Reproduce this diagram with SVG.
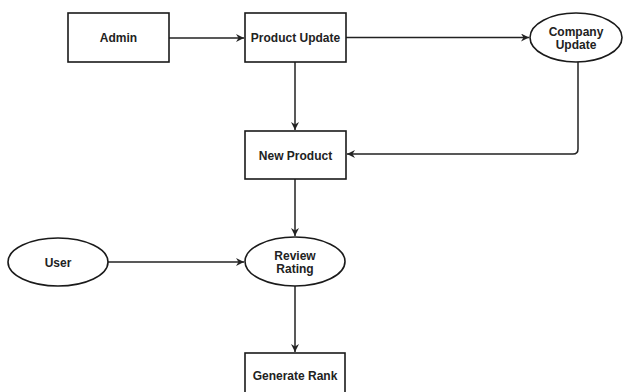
<svg xmlns="http://www.w3.org/2000/svg" width="624" height="392" viewBox="0 0 624 392">
<defs>
<style>
.n{fill:#fff;stroke:#1a1a1a;stroke-width:1.6}
.t{font-family:"Liberation Sans",Arial,sans-serif;font-size:12px;font-weight:bold;fill:#222;text-anchor:middle}
.c{fill:none;stroke:#222;stroke-width:1.5}
</style>
<marker id="ah" markerWidth="10" markerHeight="10" refX="8" refY="4" orient="auto" markerUnits="userSpaceOnUse">
<path d="M0,0 L8,4 L0,8 L2.5,4 z" fill="#222"/>
</marker>
</defs>
<rect width="624" height="392" fill="#fff"/>
<g id="connectors">
<path class="c" d="M169,38 H244" marker-end="url(#ah)"/>
<path class="c" d="M346,37.5 H529" marker-end="url(#ah)"/>
<path class="c" d="M578,62 V149 Q578,154 573,154 H347" marker-end="url(#ah)"/>
<path class="c" d="M295,62 V130" marker-end="url(#ah)"/>
<path class="c" d="M295,179 V236" marker-end="url(#ah)"/>
<path class="c" d="M107,262 H244" marker-end="url(#ah)"/>
<path class="c" d="M295,286 V352" marker-end="url(#ah)"/>
</g>
<g id="admin">
<rect class="n" x="68" y="13" width="101" height="49"/>
<text class="t" x="118.5" y="42">Admin</text>
</g>
<g id="product-update">
<rect class="n" x="245" y="13" width="101" height="49"/>
<text class="t" x="295.5" y="42">Product Update</text>
</g>
<g id="company-update">
<ellipse class="n" cx="576" cy="37.5" rx="46" ry="24.5"/>
<text class="t" x="576" y="36">Company</text>
<text class="t" x="576" y="49">Update</text>
</g>
<g id="new-product">
<rect class="n" x="245" y="131" width="101" height="48"/>
<text class="t" x="295.5" y="159.5">New Product</text>
</g>
<g id="user">
<ellipse class="n" cx="58" cy="262" rx="50" ry="24"/>
<text class="t" x="58" y="266.5">User</text>
</g>
<g id="review-rating">
<ellipse class="n" cx="295" cy="261.5" rx="50" ry="24.5"/>
<text class="t" x="295" y="260">Review</text>
<text class="t" x="295" y="273">Rating</text>
</g>
<g id="generate-rank">
<rect class="n" x="245" y="353" width="100" height="50"/>
<text class="t" x="295" y="379.5">Generate Rank</text>
</g>
</svg>
